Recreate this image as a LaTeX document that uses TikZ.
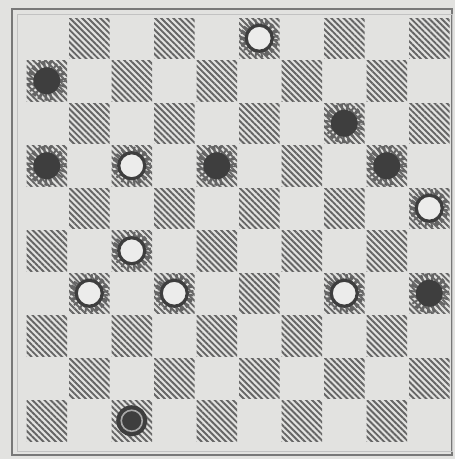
\documentclass[tikz,border=0pt]{standalone}
\usepackage{tikz}
\usetikzlibrary{patterns.meta}
\definecolor{paper}{RGB}{226,226,224}
\definecolor{ink}{RGB}{62,62,62}
\definecolor{rule}{RGB}{120,120,120}
\tikzset{
  darksq/.style={pattern={Lines[angle=-45,distance=4.3pt,line width=1.9pt]},
                 pattern color=ink!80},
  spikes/.style={draw=ink!80, line width=13pt, dash pattern=on 2pt off 2.4pt},
  whitepc/.style={circle, minimum size=26pt, inner sep=0pt, draw=ink,
                  line width=3.2pt, fill=white!35!paper, preaction={spikes}},
  blackpc/.style={circle, minimum size=27pt, inner sep=0pt, fill=ink,
                  preaction={spikes}},
  kingpc/.style={circle, minimum size=21pt, inner sep=0pt, fill=ink,
                 draw=ink!45, line width=1.6pt,
                 preaction={draw=ink, line width=10pt}},
}
\begin{document}
\begin{tikzpicture}[x=1pt, y=-1pt,
  frame/.style={draw=rule, line width=2pt},
  inframe/.style={draw=rule!45, line width=0.8pt}
]
  \useasboundingbox[fill=paper] (0,0) rectangle (455,459);
  \draw[frame] (12,9) rectangle (452,455);
  \draw[inframe] (17,14) rectangle (452,451);
  % dark squares
  \foreach \r in {0,...,9}
    \foreach \c in {0,2,...,8} {
      \pgfmathtruncatemacro\cc{\c+1-mod(\r,2)}
      \fill[darksq] ({26.5+42.5*\cc},{18+42.5*\r}) rectangle +(40.5,40.5);
    }
  % pieces
  \foreach \n/\r/\c in {1/0/5, 2/3/2, 3/4/9, 4/5/2, 5/6/1, 6/6/3, 7/6/7}
    \node[whitepc] (w\n) at ({25.5+42.5*(\c+.5)},{17+42.5*(\r+.5)}) {};
  \foreach \n/\r/\c in {1/1/0, 2/2/7, 3/3/0, 4/3/4, 5/3/8, 6/6/9}
    \node[blackpc] (b\n) at ({25.5+42.5*(\c+.5)},{17+42.5*(\r+.5)}) {};
  \node[kingpc] (k1) at ({25.5+42.5*2.5},{17+42.5*9.5}) {};
\end{tikzpicture}
\end{document}
